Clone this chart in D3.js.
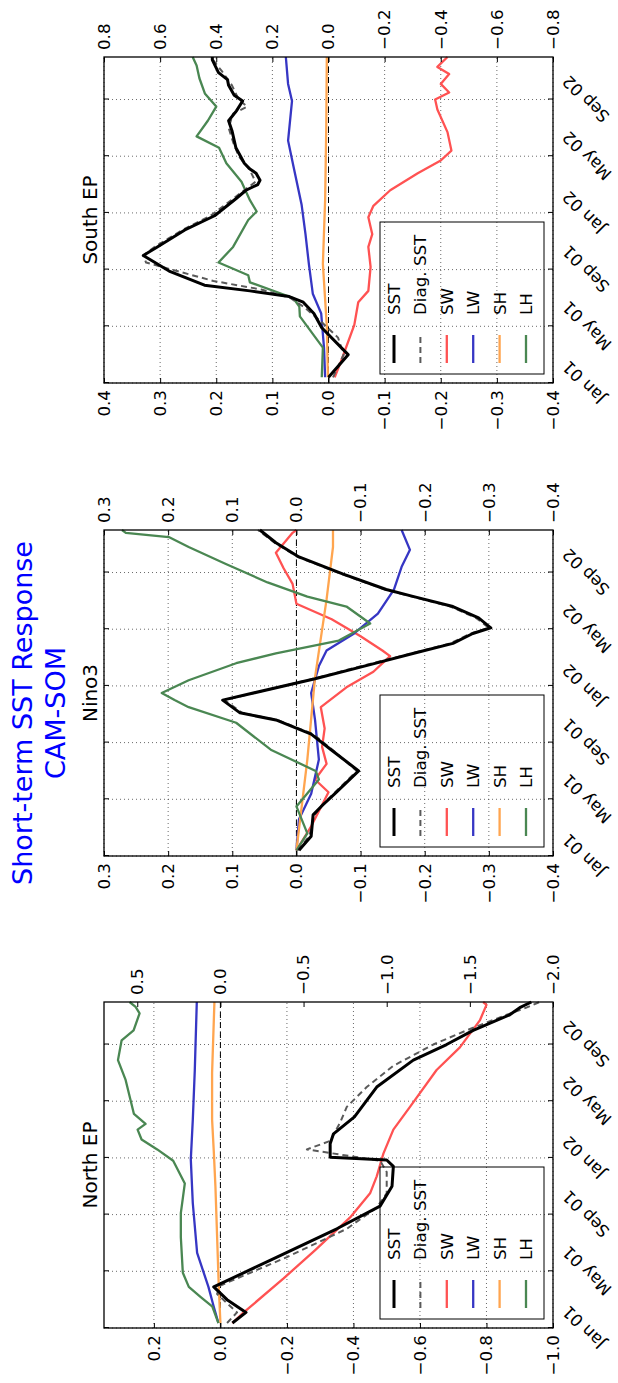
<!DOCTYPE html>
<html lang="en">
<head>
<meta charset="utf-8" />
<title>Short-term SST Response</title>
<script src="https://cdn.jsdelivr.net/npm/d3@7"></script>
<style>
    body { margin: 0; background: white; }
    text { font-family: 'DejaVu Sans', sans-serif; }
</style>
</head>
<body>
<svg id="fig" width="618" height="1383"></svg>
<script>
    // x values are months after Jan 01, y values are read against the left axis
    var xTickMonths = [0, 4, 8, 12, 16, 20];
    var xTickLabels = ["Jan 01", "May 01", "Sep 01", "Jan 02", "May 02", "Sep 02"];
    var panelTitles = ["North EP", "Nino3", "South EP"];
    var leftDomains = [[-1.0, 0.35], [-0.4, 0.3], [-0.4, 0.4]];
    var rightFactors = [2, 1, 2];
    var leftTicks = [[0.2, 0, -0.2, -0.4, -0.6, -0.8, -1.0],
                     [0.3, 0.2, 0.1, 0, -0.1, -0.2, -0.3, -0.4],
                     [0.4, 0.3, 0.2, 0.1, 0, -0.1, -0.2, -0.3, -0.4]];
    var rightTicks = [[0.5, 0, -0.5, -1.0, -1.5, -2.0],
                      [0.3, 0.2, 0.1, 0, -0.1, -0.2, -0.3, -0.4],
                      [0.8, 0.6, 0.4, 0.2, 0, -0.2, -0.4, -0.6, -0.8]];
    var seriesNames = ["SST", "Diag. SST", "SW", "LW", "SH", "LH"];

    // North EP
    var neSST = [[0.35,-0.036],[1.1,-0.077],[2.0,-0.02],[2.9,0.02],[5.0,-0.17],[7.0,-0.35],[8.6,-0.48],[10.0,-0.516],[11.4,-0.52],[11.85,-0.5],[12.05,-0.33],[13.0,-0.33],[13.7,-0.34],[14.9,-0.403],[17.0,-0.47],[18.9,-0.58],[20.0,-0.68],[21.0,-0.76],[22.1,-0.87],[22.6,-0.9],[23,-0.935]];
    var neDiag = [[0.35,-0.02],[1.1,-0.05],[2.4,0.01],[3.0,0.0],[5.0,-0.2],[7.0,-0.38],[8.5,-0.47],[9.5,-0.5],[11.0,-0.5],[11.8,-0.48],[12.6,-0.26],[13.2,-0.33],[14.5,-0.36],[15.6,-0.38],[17.0,-0.44],[18.5,-0.52],[20.0,-0.64],[21.0,-0.74],[22.0,-0.85],[22.6,-0.92],[23,-0.96]];
    var neSW = [[0.35,-0.036],[1.1,-0.07],[3.5,-0.19],[5.5,-0.285],[7.8,-0.39],[9.5,-0.45],[10.7,-0.47],[12.3,-0.49],[14.0,-0.52],[15.6,-0.57],[18.2,-0.65],[19.8,-0.72],[21.7,-0.78],[22.8,-0.8],[23,-0.79]];
    var neLW = [[0.35,0.006],[1.5,0.02],[2.9,0.036],[5.3,0.07],[8.8,0.083],[11.9,0.089],[14.7,0.083],[18.2,0.077],[23,0.071]];
    var neSH = [[0.35,0.0],[3,0.005],[10,0.015],[12.5,0.02],[14.7,0.025],[18,0.025],[23,0.018]];
    var neLH = [[0.35,0.006],[1.5,0.024],[2.2,0.06],[2.9,0.095],[3.9,0.113],[6.4,0.119],[8.1,0.119],[10.2,0.107],[11.8,0.142],[12.6,0.19],[13.3,0.237],[14.0,0.249],[14.4,0.225],[15.1,0.26],[17.5,0.285],[18.9,0.308],[20.3,0.297],[21.0,0.261],[22.2,0.243],[22.65,0.255],[23,0.273]];

    // Nino3
    var n3SST = [[0.4,-0.004],[1.4,-0.023],[2.9,-0.026],[3.6,-0.041],[4.4,-0.06],[6.0,-0.097],[7.5,-0.054],[8.6,-0.023],[9.6,0.032],[10.1,0.088],[11.0,0.115],[12.5,-0.029],[13.5,-0.115],[14.3,-0.183],[15.0,-0.244],[15.7,-0.275],[16.1,-0.303],[16.8,-0.284],[17.6,-0.244],[18.3,-0.183],[18.8,-0.14],[19.9,-0.072],[21.1,-0.004],[22.1,0.032],[23,0.057]];
    var n3Diag = [[0.4,-0.002],[1.4,-0.02],[2.9,-0.028],[3.6,-0.04],[4.4,-0.058],[6.0,-0.094],[7.5,-0.056],[8.6,-0.026],[9.6,0.03],[10.1,0.085],[11.0,0.112],[12.5,-0.026],[13.5,-0.11],[14.3,-0.18],[15.0,-0.24],[15.7,-0.272],[16.1,-0.3],[16.8,-0.28],[17.6,-0.24],[18.3,-0.18],[18.8,-0.138],[19.9,-0.07],[21.1,-0.002],[22.1,0.034],[23,0.06]];
    var n3SW = [[0.4,0.0],[2.1,-0.023],[4.5,-0.05],[5.4,-0.029],[6.5,-0.047],[7.7,-0.04],[9.0,-0.044],[10.5,-0.038],[11.9,-0.078],[13.0,-0.12],[14.1,-0.146],[14.5,-0.134],[15.5,-0.1],[16.7,-0.055],[17.8,0.0],[19.2,0.006],[20.3,0.02],[21.4,0.032],[22.8,0.006],[23,0.0]];
    var n3LW = [[0.4,0.0],[2.6,-0.004],[4.4,-0.023],[6.8,-0.035],[9.6,-0.029],[11.5,-0.023],[13.4,-0.035],[14.5,-0.047],[15.7,-0.09],[17.1,-0.127],[18.8,-0.152],[20.4,-0.164],[21.6,-0.177],[23,-0.164]];
    var n3SH = [[0.4,0.0],[6.8,-0.017],[12.6,-0.029],[18.1,-0.047],[21.8,-0.057],[23,-0.057]];
    var n3LH = [[0.4,0.0],[1.6,-0.017],[3.5,0.0],[5.4,-0.035],[6.0,-0.03],[7.5,0.04],[9.4,0.094],[10.5,0.168],[11.0,0.19],[11.5,0.21],[12.4,0.168],[13.6,0.094],[14.3,0.032],[15.2,-0.066],[16.4,-0.115],[17.6,-0.078],[18.3,-0.017],[19.3,0.045],[20.6,0.11],[21.8,0.168],[22.5,0.199],[22.8,0.266],[23,0.272]];

    // South EP
    var seSST = [[0.4,0.0],[2.0,-0.035],[3.9,0.012],[4.9,0.026],[5.7,0.045],[6.1,0.07],[6.5,0.14],[6.9,0.221],[7.9,0.284],[9.0,0.33],[9.6,0.305],[10.8,0.256],[11.8,0.203],[13.0,0.165],[13.6,0.147],[14.0,0.126],[14.3,0.122],[14.8,0.129],[15.1,0.14],[15.5,0.15],[16.6,0.165],[17.8,0.172],[18.5,0.178],[19.2,0.164],[19.9,0.153],[20.3,0.168],[21.0,0.178],[21.4,0.18],[21.9,0.196],[22.8,0.207],[23,0.207]];
    var seDiag = [[0.4,-0.008],[2.0,-0.027],[3.2,-0.017],[4.4,0.015],[5.4,0.045],[6.0,0.068],[6.6,0.12],[7.2,0.205],[7.9,0.27],[8.5,0.325],[9.0,0.33],[9.6,0.31],[10.8,0.26],[11.8,0.21],[13.0,0.17],[13.6,0.15],[14.2,0.13],[15.0,0.14],[16.0,0.16],[17.0,0.17],[18.0,0.178],[19.0,0.17],[19.5,0.145],[20.0,0.16],[21.0,0.172],[22.0,0.19],[23,0.21]];
    var seSW = [[0.4,-0.011],[1.5,-0.022],[4.1,-0.046],[5.7,-0.053],[6.5,-0.071],[8.2,-0.075],[9.6,-0.071],[10.5,-0.078],[11.7,-0.071],[12.5,-0.08],[13.6,-0.11],[14.8,-0.159],[15.7,-0.2],[16.4,-0.219],[17.7,-0.212],[19.3,-0.194],[20.0,-0.19],[20.5,-0.215],[21.1,-0.2],[21.8,-0.215],[22.3,-0.194],[23,-0.212]];
    var seLW = [[0.4,0.006],[2.5,0.008],[4.9,0.013],[6.3,0.028],[8.4,0.035],[10.5,0.041],[12.6,0.048],[15.2,0.062],[17.1,0.072],[19.9,0.065],[21.1,0.072],[23,0.076]];
    var seSH = [[0.4,0.001],[4,0.003],[8.4,0.01],[12.9,0.006],[18,0.004],[23,0.003]];
    var seLH = [[0.4,0.012],[2.5,0.01],[4.7,0.051],[5.4,0.052],[6.0,0.063],[7.1,0.14],[7.6,0.143],[8.5,0.196],[9.6,0.17],[11.5,0.143],[12.1,0.128],[12.9,0.14],[14.2,0.155],[15.5,0.182],[16.6,0.195],[17.4,0.235],[18.5,0.215],[19.5,0.2],[20.4,0.22],[21.5,0.23],[22.4,0.235],[23,0.242]];

    var panelSeries = [[neSST, neDiag, neSW, neLW, neSH, neLH],
                       [n3SST, n3Diag, n3SW, n3LW, n3SH, n3LH],
                       [seSST, seDiag, seSW, seLW, seSH, seLH]];

    var colors = ["#000000", "#5a5a5a", "#ff5252", "#3636c4", "#ffa54f", "#4a8752"];
    var widths = [3, 2, 2.3, 2.3, 2.3, 2.3];
    var dashes = [null, "6,4", null, null, null, null];
    var drawOrder = [2, 3, 4, 5, 1, 0];

    var W = 618, H = 1383;
    var fs = 16.7;
    var fmt = d3.format(".1f");

    var svg = d3.select("#fig");
    svg.append("rect").attr("width", W).attr("height", H).attr("fill", "white");

    // figure is laid out landscape (1383 x 618) and turned a quarter turn
    var fig = svg.append("g").attr("transform", "translate(0," + H + ") rotate(-90)");

    var panelLeft = [55, 527, 1000];
    var plotW = 326, plotTop = 104, plotBottom = 553;

    fig.append("text").attr("x", 670).attr("y", 32).attr("text-anchor", "middle")
        .attr("font-size", 27).attr("fill", "#0000ff").text("Short-term SST Response");
    fig.append("text").attr("x", 670).attr("y", 64.5).attr("text-anchor", "middle")
        .attr("font-size", 27).attr("fill", "#0000ff").text("CAM-SOM");

    panelTitles.forEach(function (title, i) {
        var left = panelLeft[i], right = left + plotW;
        var x = d3.scaleLinear().domain([0, 23]).range([left, right]);
        var y = d3.scaleLinear().domain(leftDomains[i]).range([plotBottom, plotTop]);
        var y2 = d3.scaleLinear().domain(leftDomains[i].map(function (v) { return v * rightFactors[i]; }))
            .range([plotBottom, plotTop]);

        var p = fig.append("g").attr("class", "panel");

        // grid
        var grid = p.append("g").attr("stroke", "#444").attr("stroke-width", 0.8).attr("stroke-dasharray", "1,3");
        grid.selectAll("line.h").data(leftTicks[i]).join("line").attr("class", "h")
            .attr("x1", left).attr("x2", right).attr("y1", function (d) { return y(d); }).attr("y2", function (d) { return y(d); });
        grid.selectAll("line.v").data(xTickMonths).join("line").attr("class", "v")
            .attr("y1", plotTop).attr("y2", plotBottom).attr("x1", function (d) { return x(d); }).attr("x2", function (d) { return x(d); });

        p.append("line").attr("x1", left).attr("x2", right).attr("y1", y(0)).attr("y2", y(0))
            .attr("stroke", "black").attr("stroke-width", 1).attr("stroke-dasharray", "6,4");

        var line = d3.line().x(function (d) { return x(d[0]); }).y(function (d) { return y(d[1]); });
        drawOrder.forEach(function (k) {
            p.append("path").datum(panelSeries[i][k]).attr("d", line)
                .attr("fill", "none").attr("stroke", colors[k]).attr("stroke-width", widths[k])
                .attr("stroke-dasharray", dashes[k]).attr("stroke-linejoin", "round");
        });

        // legend
        var lx = left + 9, ly = 380;
        var lg = p.append("g");
        lg.append("rect").attr("x", lx).attr("y", ly).attr("width", 152).attr("height", 164)
            .attr("fill", "none").attr("stroke", "black").attr("stroke-width", 1);
        seriesNames.forEach(function (name, k) {
            var ry = ly + 14 + k * 26.4;
            lg.append("line").attr("x1", lx + 11).attr("x2", lx + 39).attr("y1", ry).attr("y2", ry)
                .attr("stroke", colors[k]).attr("stroke-width", widths[k]).attr("stroke-dasharray", dashes[k]);
            lg.append("text").attr("x", lx + 59).attr("y", ry).attr("dominant-baseline", "central")
                .attr("font-size", fs).text(name);
        });

        p.append("rect").attr("x", left).attr("y", plotTop).attr("width", plotW).attr("height", plotBottom - plotTop)
            .attr("fill", "none").attr("stroke", "black").attr("stroke-width", 1.3);

        // axes, ticks point inward
        var axL = p.append("g").attr("transform", "translate(" + left + ",0)")
            .call(d3.axisLeft(y).tickValues(leftTicks[i]).tickFormat(fmt).tickSize(-5).tickSizeOuter(0).tickPadding(7));
        var axR = p.append("g").attr("transform", "translate(" + right + ",0)")
            .call(d3.axisRight(y2).tickValues(rightTicks[i]).tickFormat(fmt).tickSize(-5).tickSizeOuter(0).tickPadding(7));
        var axB = p.append("g").attr("transform", "translate(0," + plotBottom + ")")
            .call(d3.axisBottom(x).tickValues(xTickMonths).tickFormat(function (d, j) { return xTickLabels[j]; }).tickSize(-5).tickSizeOuter(0));
        var axT = p.append("g").attr("transform", "translate(0," + plotTop + ")")
            .call(d3.axisTop(x).tickValues(xTickMonths).tickFormat("").tickSize(-5).tickSizeOuter(0));

        [axL, axR, axB, axT].forEach(function (a) {
            a.select(".domain").remove();
            a.attr("font-size", fs).attr("font-family", "'DejaVu Sans', sans-serif");
            a.selectAll("text").attr("fill", "black");
        });

        axB.selectAll(".tick text").each(function () {
            var w = this.getComputedTextLength();
            var half = (w + fs * 0.9) * Math.SQRT1_2 / 2;
            d3.select(this).attr("y", null).attr("dy", null).attr("text-anchor", "middle")
                .attr("dominant-baseline", "central")
                .attr("transform", "translate(0," + (7 + half) + ") rotate(-45)");
        });

        p.append("text").attr("x", (left + right) / 2).attr("y", 97).attr("text-anchor", "middle")
            .attr("font-size", 20).text(title);
    });
</script>
</body>
</html>
